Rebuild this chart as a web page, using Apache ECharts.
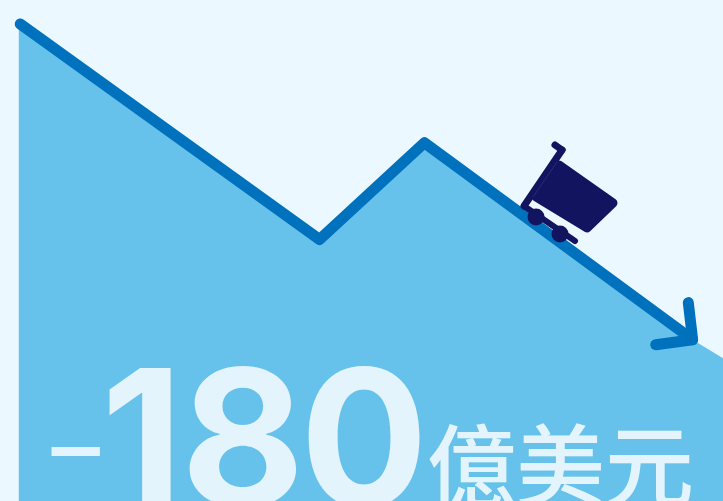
<!DOCTYPE html>
<html>
<head>
<meta charset="utf-8">
<style>html,body{margin:0;padding:0;background:#ebf8ff}#c{width:723px;height:501px}</style>
<script src="https://cdn.jsdelivr.net/npm/echarts@6/dist/echarts.min.js"></script>
</head>
<body>
<div id="c"></div>
<script>
// Falling trend, on a 0-100 scale along both axes
const trendX = [2.8, 44.2, 58.7, 95.8];
const trendY = [95.2, 52.2, 71.5, 32.2];
const areaX = [2.6, 44.2, 58.7, 95.8, 100];
const areaY = [95.4, 52.2, 71.5, 32.2, 28.5];
const arrowX = [95.2, 95.8, 90.7];
const arrowY = [39.6, 32.2, 31.2];
const amountDigits = ['1', '8', '0'];
const signText = '–';
const unitText = '億美元';

const NAVY = '#12145f', BLUE = '#0071bc', SKY = '#66c2ea', PALE = '#e4f4fc';
const zip = (a, b) => a.map((v, i) => [v, b[i]]);
const digitLeft = [101, 181, 300];

const rod = (x1, y1, x2, y2, w) => ({
  type: 'line', z: 10, shape: { x1, y1, x2, y2 },
  style: { stroke: NAVY, lineWidth: w, lineCap: 'round' }
});

const chart = echarts.init(document.getElementById('c'), null, { renderer: 'canvas' });
chart.setOption({
  animation: false,
  backgroundColor: '#ebf8ff',
  grid: { left: 0, right: 0, top: 0, bottom: 0 },
  xAxis: { type: 'value', min: 0, max: 100, show: false },
  yAxis: { type: 'value', min: 0, max: 100, show: false },
  series: [
    {
      type: 'line', data: zip(areaX, areaY), symbol: 'none', z: 1,
      lineStyle: { width: 0 }, areaStyle: { color: SKY, opacity: 1 }
    },
    {
      type: 'line', data: zip(trendX, trendY), symbol: 'none', z: 2,
      lineStyle: { color: BLUE, width: 11, cap: 'round', join: 'round' }
    },
    {
      type: 'line', data: zip(arrowX, arrowY), symbol: 'none', z: 3,
      lineStyle: { color: BLUE, width: 11, cap: 'round', join: 'round' }
    }
  ],
  graphic: [
    // Shopping cart rolling down the slope
    rod(524, 206, 562, 150, 7),
    rod(562, 150, 555, 145, 7),
    rod(524, 206, 575, 241, 6),
    {
      type: 'polygon', z: 10,
      shape: { points: [[559, 165], [613, 203], [587, 228], [536, 197]] },
      style: { fill: NAVY, stroke: NAVY, lineWidth: 9, lineJoin: 'round' }
    },
    {
      type: 'line', z: 11, shape: { x1: 557, y1: 162, x2: 533, y2: 197 },
      style: { stroke: '#5a66a8', lineWidth: 0.6, opacity: 0.5 }
    },
    { type: 'circle', z: 11, shape: { cx: 536, cy: 217, r: 8.5 }, style: { fill: NAVY } },
    { type: 'circle', z: 11, shape: { cx: 560, cy: 234, r: 8.5 }, style: { fill: NAVY } },
    // Headline figure
    {
      type: 'text', z: 12, x: 47, y: 449,
      style: {
        text: signText, fill: PALE, font: '400 115px "Noto Sans"',
        align: 'left', verticalAlign: 'middle'
      }
    },
    ...amountDigits.map((d, i) => ({
      type: 'text', z: 12, x: digitLeft[i], y: 354,
      style: {
        text: d, fill: PALE, font: '700 190px Inter',
        align: 'left', verticalAlign: 'top'
      }
    })),
    {
      type: 'text', z: 12, x: 427, y: 421,
      style: {
        text: unitText, fill: PALE, font: '500 89px "Noto Sans CJK TC"',
        align: 'left', verticalAlign: 'top'
      }
    }
  ]
});
</script>
</body>
</html>
